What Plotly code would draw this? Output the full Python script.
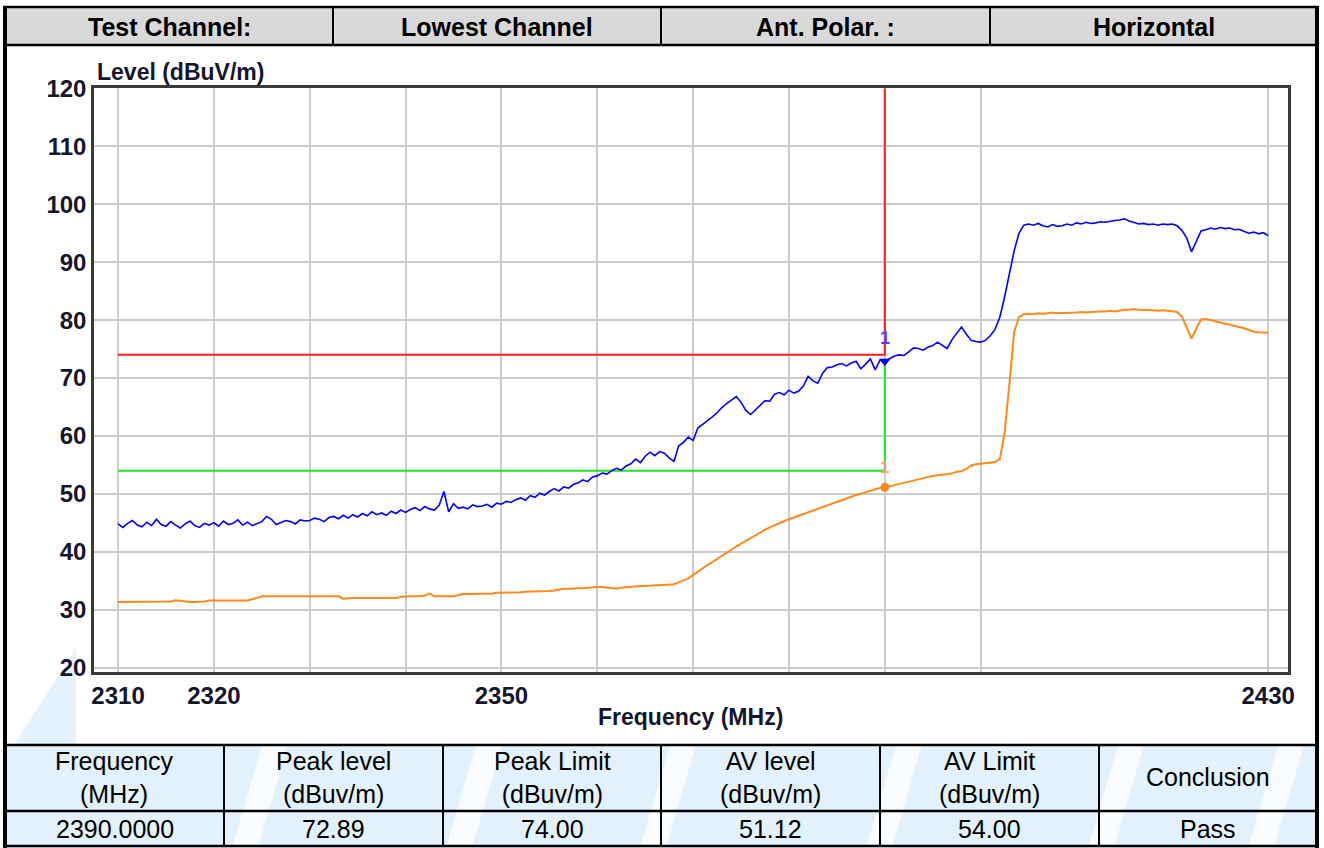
import plotly.graph_objects as go

# ---- sweep data (dBuV/m) ----
freq_mhz = [2310 + 0.5 * i for i in range(241)]

peak_level = [
    44.8, 44.2, 44.9, 45.4, 44.6, 44.3, 45.1, 44.5, 45.6, 44.7, 44.4, 45.2, 44.6, 44.1, 44.8, 45.3, 44.5, 44.2, 44.9, 44.6,
    45.0, 44.4, 45.3, 44.7, 44.9, 45.5, 44.6, 45.1, 44.5, 44.9, 45.2, 46.1, 45.6, 44.7, 45.0, 45.4, 45.2, 44.8, 45.5, 45.3,
    45.4, 45.8, 45.6, 45.2, 45.9, 46.1, 45.7, 46.3, 45.8, 46.4, 46.0, 46.6, 46.2, 46.9, 46.4, 46.7, 46.3, 47.0, 46.6, 47.2,
    46.8, 47.3, 47.6, 47.1, 47.8, 47.4, 47.2, 48.0, 50.4, 46.9, 48.3, 47.5, 47.7, 47.4, 48.1, 47.8, 47.9, 48.2, 47.7, 48.4,
    48.2, 48.7, 48.5, 49.0, 49.3, 48.9, 49.7, 49.4, 50.1, 49.8, 50.4, 50.9, 50.5, 51.2, 51.0, 51.6, 51.9, 52.4, 52.1, 52.9,
    53.1, 53.6, 53.4, 54.0, 54.4, 54.1, 54.8, 55.2, 56.0, 55.4, 56.5, 57.2, 56.6, 57.3, 57.0, 56.2, 55.6, 58.3, 58.9, 59.8,
    59.2, 61.4, 62.0, 62.6, 63.3, 64.0, 64.9, 65.6, 66.2, 66.8, 65.8, 64.4, 63.7, 64.5, 65.4, 66.1, 66.0, 67.2, 67.5, 67.1,
    67.9, 67.4, 67.7, 68.6, 70.3, 69.5, 69.1, 70.8, 71.8, 71.9, 72.3, 72.5, 72.1, 72.6, 72.9, 71.6, 72.4, 73.3, 71.4, 73.1,
    72.89, 73.4, 73.8, 74.0, 73.9, 74.5, 75.2, 75.1, 74.8, 75.3, 75.6, 76.2, 75.6, 75.1, 76.6, 77.8, 78.8, 77.6, 76.5, 76.3,
    76.2, 76.5, 77.3, 78.4, 80.5, 84.0, 88.0, 92.0, 95.0, 96.4, 96.6, 96.4, 96.7, 96.3, 96.1, 96.5, 96.2, 96.3, 96.6, 96.4,
    96.8, 96.6, 96.9, 96.7, 96.8, 97.0, 96.9, 97.1, 97.2, 97.3, 97.5, 97.1, 96.8, 96.6, 96.7, 96.5, 96.6, 96.4, 96.6, 96.5,
    96.6, 96.3, 95.5, 94.2, 91.8, 93.6, 95.4, 95.6, 95.9, 95.7, 96.0, 95.8, 95.9, 95.6, 95.7, 95.3, 95.0, 95.2, 94.9, 95.1,
    94.6,
]

av_level = [
    31.3, 31.3, 31.3, 31.3, 31.3, 31.3, 31.3, 31.3, 31.3, 31.3, 31.3, 31.4, 31.6, 31.5, 31.3, 31.3, 31.3, 31.3, 31.4, 31.6,
    31.6, 31.6, 31.6, 31.6, 31.6, 31.6, 31.6, 31.6, 31.8, 32.1, 32.3, 32.3, 32.3, 32.3, 32.3, 32.3, 32.3, 32.3, 32.3, 32.3,
    32.3, 32.3, 32.3, 32.3, 32.3, 32.3, 32.3, 31.9, 32.0, 32.0, 32.0, 32.0, 32.0, 32.0, 32.0, 32.0, 32.0, 32.0, 32.0, 32.2,
    32.3, 32.3, 32.3, 32.3, 32.4, 32.8, 32.3, 32.3, 32.3, 32.3, 32.3, 32.5, 32.7, 32.7, 32.7, 32.7, 32.7, 32.8, 32.8, 32.9,
    32.9, 33.0, 33.0, 33.0, 33.0, 33.1, 33.1, 33.1, 33.2, 33.2, 33.2, 33.3, 33.5, 33.6, 33.6, 33.7, 33.7, 33.7, 33.8, 33.8,
    33.9, 33.9, 33.8, 33.6, 33.6, 33.8, 33.9, 34.0, 34.0, 34.1, 34.1, 34.2, 34.2, 34.2, 34.3, 34.3, 34.4, 34.7, 35.0, 35.4,
    36.0, 36.6, 37.1, 37.7, 38.2, 38.8, 39.3, 39.8, 40.4, 40.9, 41.4, 41.9, 42.4, 42.8, 43.3, 43.8, 44.2, 44.6, 45.0, 45.3,
    45.6, 45.9, 46.3, 46.6, 46.9, 47.2, 47.5, 47.8, 48.1, 48.4, 48.7, 49.0, 49.3, 49.5, 49.8, 50.0, 50.3, 50.5, 50.8, 51.0,
    51.12, 51.3, 51.5, 51.7, 51.9, 52.1, 52.3, 52.6, 52.8, 53.0, 53.1, 53.2, 53.3, 53.4, 53.5, 53.8, 53.9, 54.3, 54.9, 55.1,
    55.2, 55.3, 55.4, 55.5, 56.0, 60.5, 69.0, 78.0, 80.5, 81.0, 81.1, 81.0, 81.2, 81.1, 81.2, 81.3, 81.2, 81.2, 81.3, 81.3,
    81.3, 81.4, 81.3, 81.4, 81.5, 81.5, 81.5, 81.6, 81.5, 81.7, 81.8, 81.8, 81.9, 81.8, 81.8, 81.7, 81.7, 81.6, 81.7, 81.6,
    81.5, 81.4, 80.6, 78.8, 76.8, 78.5, 80.1, 80.2, 80.0, 79.8, 79.6, 79.4, 79.2, 79.0, 78.9, 78.6, 78.3, 78.0, 77.9, 77.8,
    77.8,
]

# ---- marker / limits ----
marker_freq = 2390.0
peak_marker = 72.89
av_marker = 51.12
peak_limit = 74.0
av_limit = 54.0
limit_start = 2310.0
level_top = 120.0

# ---- axes ----
y_ticks = [20, 30, 40, 50, 60, 70, 80, 90, 100, 110, 120]
x_grid = [2310, 2320, 2330, 2340, 2350, 2360, 2370, 2380, 2390, 2400, 2430]
x_labelled = ["2310", "2320", "2350", "2430"]

# ---- report tables ----
header_cells = ["Test Channel:", "Lowest Channel", "Ant. Polar. :", "Horizontal"]
result_heads = ["Frequency<br>(MHz)", "Peak level<br>(dBuv/m)", "Peak Limit<br>(dBuv/m)",
                "AV level<br>(dBuv/m)", "AV Limit<br>(dBuv/m)", "Conclusion"]
result_values = [f"{marker_freq:.4f}", f"{peak_marker:.2f}", f"{peak_limit:.2f}",
                 f"{av_marker:.2f}", f"{av_limit:.2f}", "Pass"]

# ---- page geometry (pixels) ----
W, H = 1324, 848
PL, PR, PT, PB = 94, 1288, 88, 672
FONT = "Liberation Sans, Arial, sans-serif"
INK = "#15152e"


def fx(px):
    return (px - PL) / (PR - PL)


def fy(py):
    return (PB - py) / (PB - PT)


def page_text(px, py, text, size, color="black", xanchor="center"):
    return dict(x=fx(px), y=fy(py), xref="paper", yref="paper", xanchor=xanchor,
                yanchor="middle", text=text, showarrow=False,
                font=dict(family=FONT, size=size, color=color))


fig = go.Figure()

# limit lines
fig.add_trace(go.Scatter(x=[limit_start, marker_freq, marker_freq],
                         y=[peak_limit, peak_limit, level_top],
                         mode="lines", line=dict(color="#ff1a1a", width=2), hoverinfo="skip"))
fig.add_trace(go.Scatter(x=[limit_start, marker_freq, marker_freq],
                         y=[av_limit, av_limit, peak_marker],
                         mode="lines", line=dict(color="#22e022", width=2), hoverinfo="skip"))

# measured traces
fig.add_trace(go.Scatter(x=freq_mhz, y=av_level, mode="lines",
                         line=dict(color="#ff8a1c", width=2)))
fig.add_trace(go.Scatter(x=freq_mhz, y=peak_level, mode="lines",
                         line=dict(color="#0000ff", width=1.6)))

# markers
fig.add_trace(go.Scatter(x=[marker_freq], y=[peak_marker], mode="markers",
                         marker=dict(symbol="triangle-down", size=10, color="#0000ff")))
fig.add_trace(go.Scatter(x=[marker_freq], y=[av_marker], mode="markers",
                         marker=dict(symbol="circle", size=9, color="#ff8a1c")))

annotations = [
    dict(x=marker_freq, y=peak_marker + 4.0, xref="x", yref="y", text="<b>1</b>", showarrow=False,
         xanchor="center", yanchor="middle", font=dict(family=FONT, size=18, color="#5a3cf0")),
    dict(x=marker_freq, y=av_limit + 0.5, xref="x", yref="y", text="<b>1</b>", showarrow=False,
         xanchor="center", yanchor="middle", font=dict(family=FONT, size=17, color="#f5a070")),
    page_text(95, 72, "<b>Level (dBuV/m)</b>", 23, INK, xanchor="left"),
    page_text(690, 717, "<b>Frequency (MHz)</b>", 23, INK),
]

shapes = []

# left watermark fragment
shapes.append(dict(type="path", xref="paper", yref="paper", layer="below",
                   path=f"M {fx(14)},{fy(745)} L {fx(76)},{fy(745)} L {fx(76)},{fy(648)} Z",
                   fillcolor="#e4f2fc", line=dict(width=0)))

# header row
hx = [5, 333, 661, 990, 1317]
shapes.append(dict(type="rect", xref="paper", yref="paper", layer="below",
                   x0=fx(5), x1=fx(1317), y0=fy(45), y1=fy(7),
                   fillcolor="#d9d9d9", line=dict(color="black", width=2.5)))
for xv in hx[1:-1]:
    shapes.append(dict(type="line", xref="paper", yref="paper",
                       x0=fx(xv), x1=fx(xv), y0=fy(45), y1=fy(7),
                       line=dict(color="black", width=2)))
for i, txt in enumerate(header_cells):
    annotations.append(page_text((hx[i] + hx[i + 1]) / 2, 27, f"<b>{txt}</b>", 25))

# result table
tx = [5, 224, 443, 661, 880, 1099, 1317]
shapes.append(dict(type="rect", xref="paper", yref="paper", layer="below",
                   x0=fx(5), x1=fx(1317), y0=fy(848), y1=fy(745),
                   fillcolor="#e2f1fb", line=dict(width=0)))
for x0 in [232, 446, 640, 866, 1088, 1248]:
    shapes.append(dict(type="path", xref="paper", yref="paper", layer="below",
                       path=(f"M {fx(x0)},{fy(848)} L {fx(x0 + 26)},{fy(848)} "
                             f"L {fx(x0 + 56)},{fy(745)} L {fx(x0 + 30)},{fy(745)} Z"),
                       fillcolor="rgba(255,255,255,0.75)", line=dict(width=0)))
for yv in [745, 811, 846]:
    shapes.append(dict(type="line", xref="paper", yref="paper",
                       x0=fx(5), x1=fx(1317), y0=fy(yv), y1=fy(yv),
                       line=dict(color="black", width=2.5)))
for xv in tx[1:-1]:
    shapes.append(dict(type="line", xref="paper", yref="paper",
                       x0=fx(xv), x1=fx(xv), y0=fy(846), y1=fy(745),
                       line=dict(color="black", width=2)))
for i in range(6):
    cx = (tx[i] + tx[i + 1]) / 2
    annotations.append(page_text(cx, 777, result_heads[i], 25))
    annotations.append(page_text(cx, 829, result_values[i], 25))

# page border
for xv in [5, 1317]:
    shapes.append(dict(type="line", xref="paper", yref="paper",
                       x0=fx(xv), x1=fx(xv), y0=fy(850), y1=fy(6),
                       line=dict(color="black", width=4)))

fig.update_layout(
    width=W, height=H,
    margin=dict(l=PL, r=W - PR, t=PT, b=H - PB, autoexpand=False),
    paper_bgcolor="white", plot_bgcolor="white",
    showlegend=False,
    shapes=shapes, annotations=annotations,
    xaxis=dict(range=[2307.49, 2432.07], tickmode="array", tickvals=x_grid,
               ticktext=[str(v) if str(v) in x_labelled else "" for v in x_grid],
               showgrid=True, gridcolor="#cbcbcb", gridwidth=2, zeroline=False,
               showline=True, linecolor="#3a3a3a", linewidth=2.5, mirror=True,
               ticks="", tickfont=dict(family=FONT, size=24, color=INK, weight="bold")),
    yaxis=dict(range=[19.23, 120.09], tickmode="array", tickvals=y_ticks,
               showgrid=True, gridcolor="#cbcbcb", gridwidth=2, zeroline=False,
               showline=True, linecolor="#3a3a3a", linewidth=2.5, mirror=True,
               ticks="", tickfont=dict(family=FONT, size=24, color=INK, weight="bold")),
)

fig.write_html("out.html")
